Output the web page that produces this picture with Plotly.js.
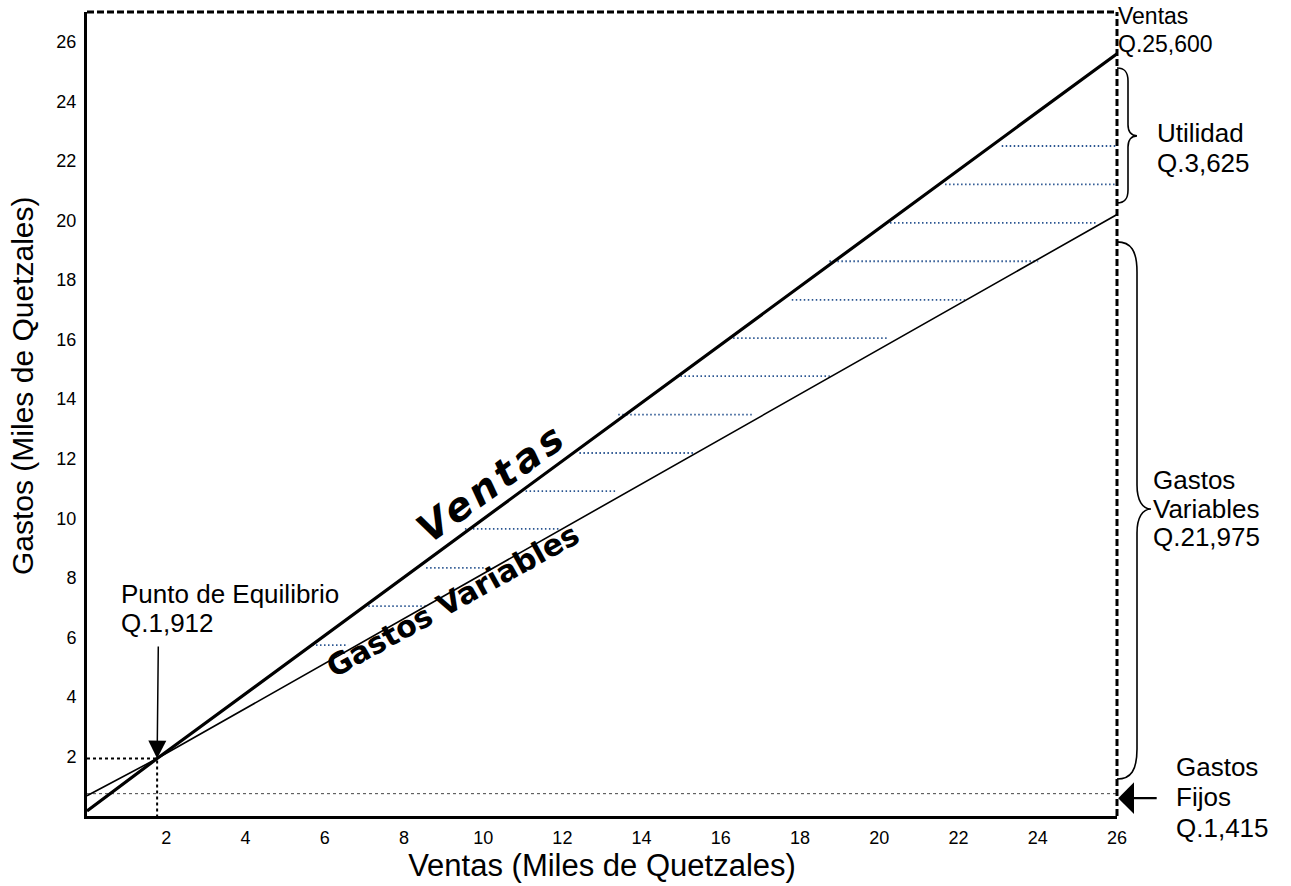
<!DOCTYPE html>
<html><head><meta charset="utf-8">
<script src="https://cdn.plot.ly/plotly-3.0.1.min.js"></script>
<style>html,body{margin:0;padding:0;background:#fff}</style>
</head><body><div id="chart" style="width:1291px;height:886px"></div>
<script>
// ---- data (miles de quetzales) ----
const xTicks = [2, 4, 6, 8, 10, 12, 14, 16, 18, 20, 22, 24, 26];
const yTicks = [2, 4, 6, 8, 10, 12, 14, 16, 18, 20, 22, 24, 26];
const xRange = [0, 26];
const yRange = [0, 27];

const ventasX = [0, 1.77, 26];
const ventasY = [0.17, 1.93, 25.6];
const gastosX = [0, 1.77, 26];
const gastosY = [0.68, 1.93, 20.2];
const fijosX = [0, 26];
const fijosY = [0.75, 0.75];
const equilibrioX = 1.77;
const equilibrioY = 1.93;

const hatchY     = [5.74, 7.05, 8.33, 9.64, 10.91, 12.19, 13.48, 14.77, 16.05, 17.33, 18.63, 19.92, 21.21, 22.50];
const hatchStart = [5.68, 7.10, 8.56, 9.54, 10.97, 12.43, 13.41, 14.88, 16.31, 17.79, 18.74, 20.27, 21.66, 23.09];
const hatchEnd   = [6.59, 8.58, 10.03, 11.94, 13.35, 15.30, 16.78, 18.75, 20.20, 22.16, 24.01, 25.48, 26.0, 26.0];

// brace spans (data y) : top, bottom, tip
const braceUtilidad = [25.12, 20.59, 22.84];
const braceVariables = [19.28, 1.24, 10.31];

// ---- geometry helpers ----
const W = 1291, H = 886;
const M = {l: 87, r: 174, t: 12, b: 70};
const PW = W - M.l - M.r, PH = H - M.t - M.b;
const LABEL_FONT = 'Liberation Sans, Arial, sans-serif';

function pX(x) { return (x - xRange[0]) / (xRange[1] - xRange[0]); }
function pY(y) { return (y - yRange[0]) / (yRange[1] - yRange[0]); }
function pxX(dxFromRight) { return 1 + dxFromRight / PW; }
function pyOff(y, dpx) { return pY(y) + dpx / PH; }

function bracePath(top, bot, tip, w, tipW, r, rt) {
  const P = (dx, y, dpx) => pxX(dx).toFixed(5) + ',' + pyOff(y, dpx).toFixed(5);
  return 'M' + P(0, top, 0) +
    ' C' + P(w * 0.7, top, 0) + ' ' + P(w, top, -r * 0.3) + ' ' + P(w, top, -r) +
    ' L' + P(w, tip, rt) +
    ' C' + P(w, tip, rt * 0.35) + ' ' + P(w + (tipW - w) * 0.4, tip, 0) + ' ' + P(tipW, tip, 0) +
    ' C' + P(w + (tipW - w) * 0.4, tip, 0) + ' ' + P(w, tip, -rt * 0.35) + ' ' + P(w, tip, -rt) +
    ' L' + P(w, bot, r) +
    ' C' + P(w, bot, r * 0.3) + ' ' + P(w * 0.7, bot, 0) + ' ' + P(0, bot, 0);
}

// hatch trace built from arrays
const hx = [], hy = [];
hatchY.forEach((y, i) => { hx.push(hatchStart[i], hatchEnd[i], null); hy.push(y, y, null); });

const traces = [
  {x: hx, y: hy, mode: 'lines', line: {color: '#2a5591', width: 1.8, dash: '1.5px,2.5px'}, hoverinfo: 'skip'},
  {x: fijosX, y: fijosY, mode: 'lines', line: {color: '#444', width: 1, dash: 'dot'}, hoverinfo: 'skip'},
  {x: [0, equilibrioX, equilibrioX], y: [equilibrioY, equilibrioY, 0], mode: 'lines',
   line: {color: '#000', width: 2, dash: 'dot'}, hoverinfo: 'skip'},
  {x: gastosX, y: gastosY, mode: 'lines', line: {color: '#000', width: 1.6}, name: 'Gastos'},
  {x: ventasX, y: ventasY, mode: 'lines', line: {color: '#000', width: 3.2}, name: 'Ventas'}
];

// text labels placed in paper space (so those right of the plot are drawn)
function label(text, xData, yData, size) {
  return {text: text, x: pX(xData), y: pY(yData), xref: 'paper', yref: 'paper', xanchor: 'left', yanchor: 'middle',
          showarrow: false, font: {family: LABEL_FONT, size: size, color: '#000'}};
}

const annotations = [
  label('Ventas', 25.98, 26.87, 23),
  label('Q.25,600', 25.98, 25.93, 23),
  label('Utilidad', 26.95, 22.94, 26),
  label('Q.3,625', 26.95, 21.93, 26),
  label('Gastos', 26.86, 11.28, 26),
  label('Variables', 26.86, 10.31, 26),
  label('Q.21,975', 26.86, 9.37, 26),
  label('Gastos', 27.44, 1.65, 26),
  label('Fijos', 27.44, 0.64, 26),
  label('Q.1,415', 27.44, -0.40, 26),
  label('Punto de Equilibrio', 0.80, 7.46, 26),
  label('Q.1,912', 0.80, 6.48, 26),
  // rotated line labels
  {text: '<span style="letter-spacing:4px">Ventas</span>', x: 10.22, y: 11.2, xref: 'x', yref: 'y',
   textangle: -36, showarrow: false,
   font: {family: 'DejaVu Sans, sans-serif', size: 39, weight: 'bold', style: 'italic', color: '#000'}},
  {text: 'Gastos Variables', x: 9.23, y: 7.25, xref: 'x', yref: 'y',
   textangle: -29, showarrow: false,
   font: {family: 'DejaVu Sans, sans-serif', size: 30, weight: 'bold', color: '#000'}},
  // arrows
  {text: '', x: equilibrioX, y: equilibrioY, ax: equilibrioX + 0.03, ay: 5.74, axref: 'x', ayref: 'y',
   xref: 'x', yref: 'y', showarrow: true, arrowhead: 2, arrowsize: 2.4, arrowwidth: 1.5, arrowcolor: '#000'},
  {text: '', x: pX(26.03), y: pY(0.6), ax: 40, ay: 0, axref: 'pixel', ayref: 'pixel',
   xref: 'paper', yref: 'paper', showarrow: true, arrowhead: 1, arrowsize: 2.4, arrowwidth: 2.2, arrowcolor: '#000'},
  // y axis title
  {text: 'Gastos (Miles de Quetzales)', xref: 'paper', yref: 'paper', x: (22 - M.l) / PW, y: (H - M.b - 386) / PH,
   xanchor: 'center', yanchor: 'middle', textangle: -90, showarrow: false,
   font: {family: LABEL_FONT, size: 30, color: '#000'}}
];

const shapes = [
  {type: 'line', xref: 'paper', yref: 'paper', x0: 0, x1: 1, y0: 1, y1: 1,
   line: {color: '#000', width: 3, dash: '7px,3px'}},
  {type: 'line', xref: 'paper', yref: 'paper', x0: 1, x1: 1, y0: 0, y1: 1,
   line: {color: '#000', width: 3, dash: '7px,3px'}},
  {type: 'path', xref: 'paper', yref: 'paper',
   path: bracePath(braceUtilidad[0], braceUtilidad[1], braceUtilidad[2], 11, 20, 13, 11),
   line: {color: '#000', width: 1.6}},
  {type: 'path', xref: 'paper', yref: 'paper',
   path: bracePath(braceVariables[0], braceVariables[1], braceVariables[2], 20, 34, 30, 24),
   line: {color: '#000', width: 1.6}}
];

const axisCommon = {
  showgrid: false, zeroline: false, showline: true, linecolor: '#000', linewidth: 3,
  ticks: '', tickfont: {family: LABEL_FONT, size: 18, color: '#000'}, fixedrange: true
};

const layout = {
  width: W, height: H,
  margin: {l: M.l, r: M.r, t: M.t, b: M.b, pad: 0},
  paper_bgcolor: '#fff', plot_bgcolor: '#fff',
  showlegend: false,
  font: {family: LABEL_FONT, color: '#000'},
  xaxis: Object.assign({}, axisCommon, {
    range: xRange, tickmode: 'array', tickvals: xTicks, ticktext: xTicks.map(String),
    ticklabelstandoff: 3,
    title: {text: 'Ventas (Miles de Quetzales)', font: {family: LABEL_FONT, size: 31, color: '#000'}, standoff: 8}
  }),
  yaxis: Object.assign({}, axisCommon, {
    range: yRange, tickmode: 'array', tickvals: yTicks, ticktext: yTicks.map(String),
    ticklabelstandoff: 4
  }),
  annotations: annotations,
  shapes: shapes
};

Plotly.newPlot('chart', traces, layout, {displayModeBar: false, staticPlot: true});
</script></body></html>
